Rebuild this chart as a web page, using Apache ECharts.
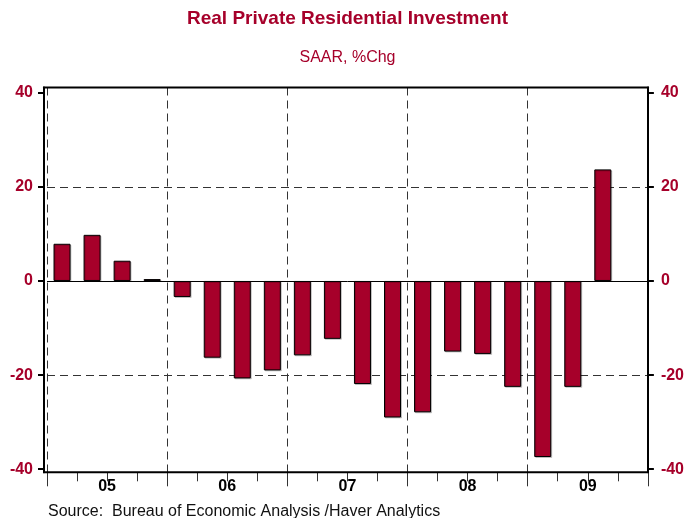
<!DOCTYPE html>
<html>
<head>
<meta charset="utf-8">
<script src="https://cdn.jsdelivr.net/npm/echarts@6/dist/echarts.min.js"></script>
<style>
  html, body { margin: 0; padding: 0; background: #fff; }
  #chart { width: 687px; height: 518px; }
</style>
</head>
<body>
<div id="chart"></div>
<script>
// Quarterly categories, 2005Q1 .. 2009Q4 (last quarter not yet reported)
const quarters = [
  '2005Q1', '2005Q2', '2005Q3', '2005Q4',
  '2006Q1', '2006Q2', '2006Q3', '2006Q4',
  '2007Q1', '2007Q2', '2007Q3', '2007Q4',
  '2008Q1', '2008Q2', '2008Q3', '2008Q4',
  '2009Q1', '2009Q2', '2009Q3', '2009Q4'
];
// Real private residential investment, SAAR % change
const investmentChg = [
  7.9, 9.8, 4.3, 0.4,
  -3.4, -16.3, -20.7, -19.0,
  -15.8, -12.3, -21.9, -29.0,
  -27.9, -15.0, -15.5, -22.5,
  -37.4, -22.5, 23.7
];
const yearLabels = ['05', '06', '07', '08', '09'];
const yTicks = [-40, -20, 0, 20, 40];
const gridValues = [-20, 20];
const zeroValue = 0;

const RED = '#a6002a';
const FONT = '"Liberation Sans", Arial, Helvetica, sans-serif';
const Y_MIN = -40.65, Y_MAX = 41.1;

const chart = echarts.init(document.getElementById('chart'), null, { renderer: 'canvas' });

const dashed = { color: '#333', width: 1, type: [8, 5] };

chart.setOption({
  animation: false,
  backgroundColor: '#fff',
  title: [
    {
      text: 'Real Private Residential Investment',
      left: 347.5, top: 19, padding: 0,
      textAlign: 'center', textVerticalAlign: 'middle',
      textStyle: { color: RED, fontFamily: FONT, fontWeight: 'bold', fontSize: 19 }
    },
    {
      text: 'SAAR, %Chg',
      left: 347.5, top: 58, padding: 0,
      textAlign: 'center', textVerticalAlign: 'middle',
      textStyle: { color: RED, fontFamily: FONT, fontWeight: 'normal', fontSize: 16 }
    },
    {
      text: 'Source:  Bureau of Economic Analysis /Haver Analytics',
      left: 48, top: 512, padding: 0,
      textAlign: 'left', textVerticalAlign: 'middle',
      textStyle: { color: '#111', fontFamily: FONT, fontWeight: 'normal', fontSize: 16 }
    }
  ],
  grid: [
    // plotting area for the quarterly bars
    { left: 47, right: 39, top: 87.5, bottom: 45.7, containLabel: false },
    // outer frame
    { left: 44, right: 39, top: 87.5, bottom: 45.7, show: true,
      borderColor: '#000', borderWidth: 2, backgroundColor: 'transparent', z: 3 }
  ],
  xAxis: [
    {
      type: 'category', gridIndex: 0, data: quarters, position: 'bottom',
      boundaryGap: true,
      axisLine: { show: false, onZero: false },
      axisTick: { show: true, interval: 0, length: 9, lineStyle: { color: '#333', width: 1 } },
      axisLabel: { show: false },
      splitLine: {
        show: true,
        interval: function (i) { return i % 4 === 0; },
        lineStyle: dashed
      }
    },
    {
      type: 'category', gridIndex: 0, data: yearLabels, position: 'bottom',
      boundaryGap: true,
      axisLine: { show: false, onZero: false },
      axisTick: { show: true, interval: 0, length: 14, lineStyle: { color: '#333', width: 1 } },
      axisLabel: {
        show: true, interval: 0, margin: 6,
        color: '#000', fontFamily: FONT, fontWeight: 'bold', fontSize: 16
      },
      splitLine: { show: false }
    },
    { type: 'category', gridIndex: 1, data: quarters, show: false }
  ],
  yAxis: [
    {
      type: 'value', gridIndex: 0, position: 'left', offset: 3,
      min: Y_MIN, max: Y_MAX,
      axisLine: { show: true, lineStyle: { color: '#000', width: 2 } },
      axisTick: { show: true, customValues: yTicks, length: 6, lineStyle: { color: '#000', width: 2 } },
      axisLabel: {
        show: true, customValues: yTicks, margin: 11,
        color: RED, fontFamily: FONT, fontWeight: 'bold', fontSize: 16
      },
      splitLine: { show: false }
    },
    {
      type: 'value', gridIndex: 0, position: 'right',
      min: Y_MIN, max: Y_MAX,
      axisLine: { show: true, lineStyle: { color: '#000', width: 2 } },
      axisTick: { show: true, customValues: yTicks, length: 6, lineStyle: { color: '#000', width: 2 } },
      axisLabel: {
        show: true, customValues: yTicks, margin: 13,
        color: RED, fontFamily: FONT, fontWeight: 'bold', fontSize: 16
      },
      splitLine: { show: false }
    },
    { type: 'value', gridIndex: 1, min: Y_MIN, max: Y_MAX, show: false }
  ],
  series: [
    {
      type: 'bar',
      xAxisIndex: 0, yAxisIndex: 0,
      data: investmentChg,
      barWidth: 17,
      itemStyle: {
        color: RED,
        borderColor: '#000',
        borderWidth: 1,
        shadowColor: 'rgba(0,0,0,0.18)',
        shadowBlur: 0,
        shadowOffsetX: 1,
        shadowOffsetY: 1
      },
      z: 2,
      markLine: {
        silent: true,
        symbol: 'none',
        z: 1,
        label: { show: false },
        emphasis: { disabled: true },
        data: [
          { yAxis: zeroValue, lineStyle: { color: '#000', width: 1, type: 'solid' } }
        ].concat(gridValues.map(function (v) {
          return { yAxis: v, lineStyle: dashed };
        }))
      }
    }
  ]
});
</script>
</body>
</html>
